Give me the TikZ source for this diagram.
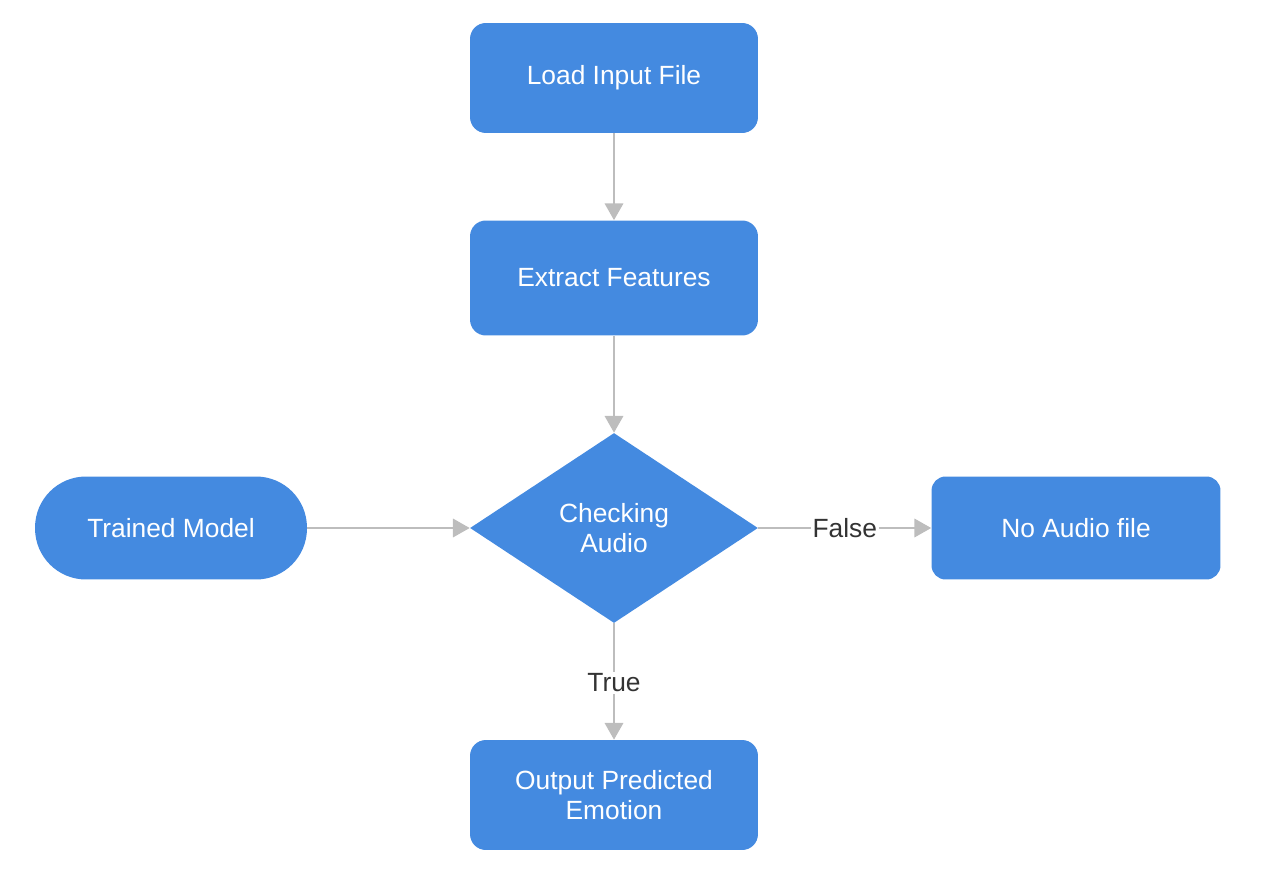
\documentclass[tikz,border=0pt]{standalone}
\usepackage{fontspec}
\setmainfont{Liberation Sans}
\usetikzlibrary{shapes.geometric,arrows.meta}
\definecolor{boxblue}{HTML}{448AE0}
\definecolor{linegray}{HTML}{BDBDBD}
\definecolor{labelgray}{HTML}{333333}

\begin{document}
\begin{tikzpicture}[x=0.02cm, y=-0.02cm,
		stepbox/.style={fill=boxblue, text=white, rounded corners=9pt, minimum width=5.76cm, minimum height=2.2cm, align=center, font=\fontsize{15}{17}\selectfont},
		flow/.style={draw=linegray, line width=1.1pt, -{Triangle[width=10.5pt, length=9.5pt]}},
		lbl/.style={fill=white, text=labelgray, inner sep=1pt, font=\fontsize{15}{17}\selectfont}]
			%%%%% START %%%%%
			
			\useasboundingbox (0, 0) rectangle (1264, 878);
			
			\node[stepbox] (load) at (614, 78) {Load Input File};
			\node[stepbox, minimum height=2.3cm] (extract) at (614, 278) {Extract Features};
			
			\node[diamond, fill=boxblue, text=white, inner sep=0pt, aspect=1.516, minimum width=5.76cm, minimum height=3.8cm, align=center, font=\fontsize{15}{17}\selectfont] (check) at (614, 528) {Checking\\Audio};
			
			\node[stepbox, minimum width=5.44cm, minimum height=2.06cm, rounded corners=1.02cm] (model) at (171, 528) {Trained Model};
			\node[stepbox, minimum width=5.78cm, minimum height=2.06cm, rounded corners=8pt] (noaudio) at (1076, 528) {No Audio file};
			
			\node[stepbox] (output) at (614, 795) {Output Predicted\\Emotion};
			
			\draw[flow] (load) -- (extract);
			\draw[flow] (extract) -- (check.north);
			\draw[flow] (model) -- (check.west);
			\draw[flow] (check.east) -- node[lbl] {False} (noaudio);
			\draw[flow] (check.south) -- node[lbl, pos=0.51] {True} (output);
			
			%%%%% END %%%%%
		\end{tikzpicture}
\end{document}
